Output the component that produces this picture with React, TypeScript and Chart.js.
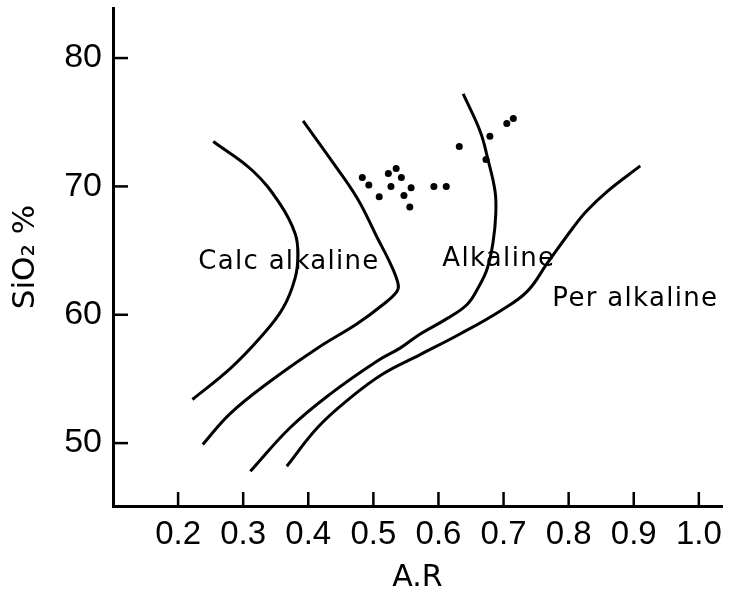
import React, { useEffect, useRef } from "react";
import { Chart, registerables } from "chart.js";

Chart.register(...registerables);

// Boundary curves (A.R, SiO2 %)
const calcAlkalineLeftX = [0.254, 0.315, 0.357, 0.38, 0.384, 0.38, 0.361, 0.326, 0.28, 0.222];
const calcAlkalineLeftY = [73.5, 71.2, 68.6, 66.3, 64.7, 62.9, 60.5, 58.2, 55.8, 53.4];

const calcAlkalineRightX = [0.392, 0.433, 0.475, 0.506, 0.526, 0.538, 0.536, 0.515, 0.475, 0.414, 0.341, 0.28, 0.238];
const calcAlkalineRightY = [75.1, 72.2, 69.1, 66.0, 64.0, 62.4, 61.8, 60.8, 59.3, 57.4, 54.8, 52.3, 49.9];

const alkalineRightX = [0.638, 0.664, 0.676, 0.687, 0.688, 0.684, 0.675, 0.661, 0.644, 0.613, 0.572, 0.541, 0.506, 0.433, 0.372, 0.311];
const alkalineRightY = [77.2, 74.3, 72.1, 69.6, 67.8, 65.7, 63.6, 62.1, 60.8, 59.7, 58.5, 57.4, 56.4, 53.8, 51.2, 47.8];

const perAlkalineX = [0.91, 0.859, 0.828, 0.807, 0.767, 0.736, 0.695, 0.633, 0.572, 0.515, 0.464, 0.414, 0.367];
const perAlkalineY = [71.6, 69.6, 68.1, 66.8, 64.0, 61.8, 60.3, 58.5, 56.9, 55.4, 53.5, 51.2, 48.2];

// Samples
const sampleAR = [0.483, 0.493, 0.509, 0.523, 0.535, 0.543, 0.527, 0.547, 0.558, 0.556, 0.593, 0.612, 0.632, 0.673, 0.679, 0.705, 0.715];
const sampleSiO2 = [70.7, 70.1, 69.2, 71.0, 71.4, 70.7, 70.0, 69.3, 69.9, 68.4, 70.0, 70.0, 73.1, 72.1, 73.9, 74.9, 75.3];

// Ticks
const xTicks = [0.2, 0.3, 0.4, 0.5, 0.6, 0.7, 0.8, 0.9, 1.0];
const yTicks = [50, 60, 70, 80];

// Field names and where they sit (A.R, SiO2 at text baseline)
const fieldNames = ["Calc alkaline", "Alkaline", "Per alkaline"];
const fieldAR = [0.231, 0.606, 0.775];
const fieldSiO2 = [63.6, 63.8, 60.7];

const FONT = "'DejaVu Sans', sans-serif";
const TICK_FONT = "'Liberation Sans', Arial, sans-serif";

const toPts = (xs: number[], ys: number[]) => xs.map((x, i) => ({ x, y: ys[i] }));

export default function App() {
  const ref = useRef<HTMLCanvasElement | null>(null);

  useEffect(() => {
    if (!ref.current) return;
    const lineDs = (xs: number[], ys: number[]) => ({
      data: toPts(xs, ys),
      showLine: true,
      borderColor: "#000",
      borderWidth: 3,
      pointRadius: 0,
      tension: 0.4,
      fill: false,
    });

    const decor = {
      id: "decor",
      afterDatasetsDraw(chart: any) {
        const { ctx, scales, chartArea } = chart;
        const xs = scales.x;
        const ys = scales.y;
        ctx.save();
        ctx.strokeStyle = "#000";
        ctx.lineWidth = 2.5;
        xTicks.forEach((v) => {
          const px = xs.getPixelForValue(v);
          ctx.beginPath();
          ctx.moveTo(px, chartArea.bottom);
          ctx.lineTo(px, chartArea.bottom - 14);
          ctx.stroke();
        });
        yTicks.forEach((v) => {
          const py = ys.getPixelForValue(v);
          ctx.beginPath();
          ctx.moveTo(chartArea.left, py);
          ctx.lineTo(chartArea.left + 15, py);
          ctx.stroke();
        });
        ctx.fillStyle = "#000";
        ctx.font = `26px ${FONT}`;
        ctx.textAlign = "left";
        ctx.textBaseline = "alphabetic";
        try {
          (ctx as any).letterSpacing = "1.3px";
        } catch (e) {}
        fieldNames.forEach((name, i) => {
          ctx.fillText(name, xs.getPixelForValue(fieldAR[i]), ys.getPixelForValue(fieldSiO2[i]));
        });
        ctx.restore();
      },
    };

    const chart = new Chart(ref.current, {
      type: "scatter",
      data: {
        datasets: [
          lineDs(calcAlkalineLeftX, calcAlkalineLeftY),
          lineDs(calcAlkalineRightX, calcAlkalineRightY),
          lineDs(alkalineRightX, alkalineRightY),
          lineDs(perAlkalineX, perAlkalineY),
          {
            data: toPts(sampleAR, sampleSiO2),
            pointRadius: 3.5,
            pointBackgroundColor: "#000",
            pointBorderWidth: 0,
            showLine: false,
          } as any,
        ],
      },
      options: {
        responsive: false,
        animation: false,
        devicePixelRatio: 1,
        layout: { padding: { top: 8, right: 8, left: 0, bottom: 0 } },
        plugins: { legend: { display: false }, tooltip: { enabled: false } },
        scales: {
          x: {
            type: "linear",
            min: 0.1,
            max: 1.0356,
            afterBuildTicks: (s: any) => {
              s.ticks = xTicks.map((v) => ({ value: v }));
            },
            afterFit: (s: any) => {
              s.height = 90;
              s.paddingLeft = 0;
              s.paddingRight = 0;
            },
            grid: { display: false, drawTicks: false },
            border: { display: true, width: 3, color: "#000" },
            ticks: {
              color: "#000",
              font: { family: TICK_FONT, size: 33 },
              padding: 9,
              maxRotation: 0,
              autoSkip: false,
              callback: (v: any) => Number(v).toFixed(1),
            },
            title: {
              display: true,
              text: "A.R",
              color: "#000",
              font: { family: FONT, size: 30 },
              padding: { top: 0, bottom: 0 },
            },
          },
          y: {
            type: "linear",
            min: 45.1,
            max: 83.9,
            afterBuildTicks: (s: any) => {
              s.ticks = yTicks.map((v) => ({ value: v }));
            },
            afterFit: (s: any) => {
              s.width = 113;
              s.paddingTop = 0;
              s.paddingBottom = 0;
            },
            grid: { display: false, drawTicks: false },
            border: { display: true, width: 3, color: "#000" },
            ticks: {
              color: "#000",
              font: { family: TICK_FONT, size: 34 },
              padding: 11,
              autoSkip: false,
              callback: (v: any) => String(v),
            },
            title: {
              display: true,
              text: "SiO₂ %",
              color: "#000",
              font: { family: FONT, size: 31 },
              padding: { top: 7, bottom: 0 },
            },
          },
        },
      },
      plugins: [decor],
    });
    return () => chart.destroy();
  }, []);

  return (
    <div style={{ position: "fixed", left: 0, top: 0, width: 730, height: 596, background: "#fff" }}>
      <canvas ref={ref} width={730} height={596} />
    </div>
  );
}
